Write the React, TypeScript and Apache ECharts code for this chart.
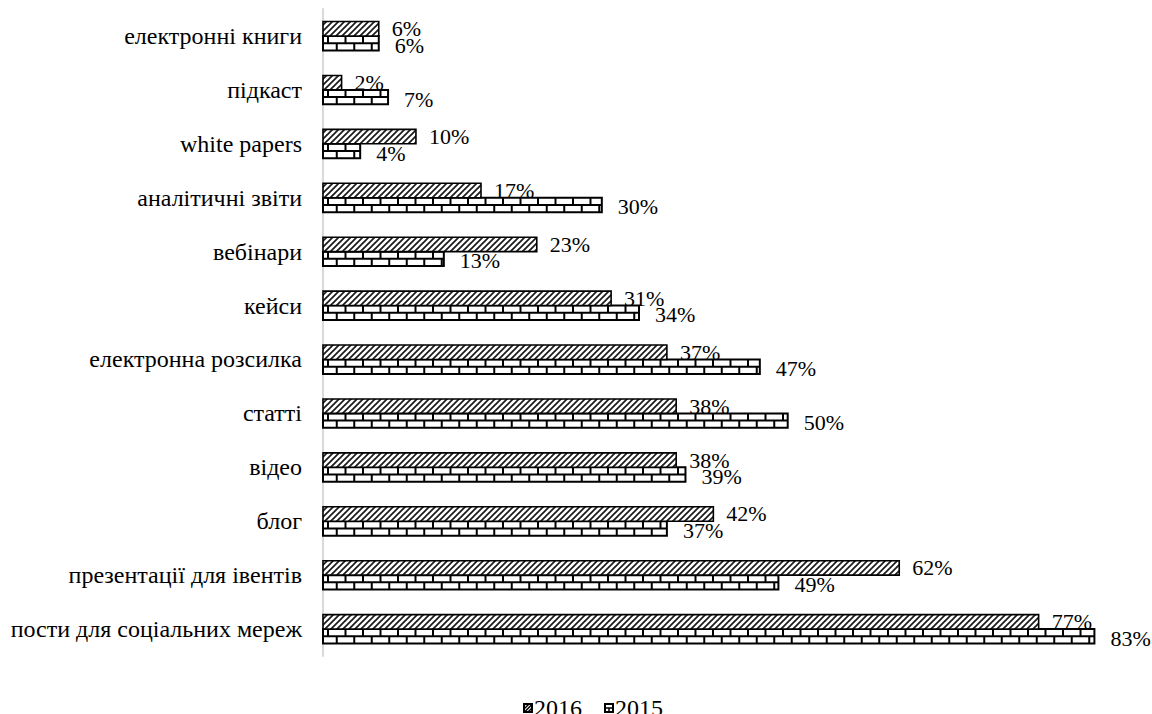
import React, { useEffect, useRef } from "react";
import * as echarts from "echarts";

// Content formats, listed top to bottom as they appear on the axis
const categories = [
  "електронні книги",
  "підкаст",
  "white papers",
  "аналітичні звіти",
  "вебінари",
  "кейси",
  "електронна розсилка",
  "статті",
  "відео",
  "блог",
  "презентації для івентів",
  "пости для соціальних мереж",
];

const values2016 = [6, 2, 10, 17, 23, 31, 37, 38, 38, 42, 62, 77];
const values2015 = [6, 7, 4, 30, 13, 34, 47, 50, 39, 37, 49, 83];

const seriesNames = ["2016", "2015"];

const FONT = "Liberation Serif";
const LABEL_SIZE = 22;
const AXIS_SIZE = 24;

// Diagonal hatch tile used for the 2016 bars
function makeHatchTile(): HTMLCanvasElement {
  const s = 6;
  const c = document.createElement("canvas");
  c.width = s;
  c.height = s;
  const ctx = c.getContext("2d")!;
  ctx.fillStyle = "#ffffff";
  ctx.fillRect(0, 0, s, s);
  ctx.strokeStyle = "#1a1a1a";
  ctx.lineWidth = 1.7;
  ctx.beginPath();
  ctx.moveTo(-1, s + 1);
  ctx.lineTo(s + 1, -1);
  ctx.moveTo(-1, 1);
  ctx.lineTo(1, -1);
  ctx.moveTo(s - 1, s + 1);
  ctx.lineTo(s + 1, s - 1);
  ctx.stroke();
  return c;
}

function makeLegendIcon(kind: "hatch" | "brick"): string {
  const s = 20;
  const c = document.createElement("canvas");
  c.width = s;
  c.height = s;
  const ctx = c.getContext("2d")!;
  ctx.fillStyle = "#ffffff";
  ctx.fillRect(0, 0, s, s);
  ctx.strokeStyle = "#000000";
  ctx.lineWidth = 3;
  if (kind === "hatch") {
    ctx.beginPath();
    for (let k = -s; k < 2 * s; k += 7) {
      ctx.moveTo(k, s);
      ctx.lineTo(k + s, 0);
    }
    ctx.stroke();
  } else {
    ctx.beginPath();
    ctx.moveTo(0, s / 2);
    ctx.lineTo(s, s / 2);
    ctx.moveTo(s / 2, s / 2);
    ctx.lineTo(s / 2, s);
    ctx.stroke();
  }
  ctx.lineWidth = 4;
  ctx.strokeRect(2, 2, s - 4, s - 4);
  return c.toDataURL();
}

export default function App() {
  const ref = useRef<HTMLDivElement>(null);

  useEffect(() => {
    if (!ref.current) return;
    const chart = echarts.init(ref.current, null, { renderer: "svg" });
    const hatch = makeHatchTile();
    const hatchIcon = makeLegendIcon("hatch");
    const brickIcon = makeLegendIcon("brick");

    const BRICK_W = 17.5;

    const makeRenderItem = (which: "2016" | "2015") => (params: any, api: any) => {
      const val = api.value(0);
      const cat = api.value(1);
      const start = api.coord([0, cat]);
      const end = api.coord([val, cat]);
      const band = api.size([0, 1])[1];
      const h = band * 0.268;
      const x0 = start[0];
      const w = end[0] - start[0];
      const cy = start[1];
      const y0 = which === "2016" ? cy - h : cy;
      const children: any[] = [];

      if (which === "2016") {
        children.push({
          type: "rect",
          shape: { x: x0, y: y0, width: w, height: h },
          style: {
            fill: { image: hatch, repeat: "repeat", imageWidth: 6, imageHeight: 6 },
            stroke: "#000",
            lineWidth: 1.6,
          },
        });
      } else {
        children.push({
          type: "rect",
          shape: { x: x0, y: y0, width: w, height: h },
          style: { fill: "#fff", stroke: "none" },
        });
        const mid = y0 + h / 2;
        children.push({
          type: "line",
          shape: { x1: x0, y1: mid, x2: x0 + w, y2: mid },
          style: { stroke: "#000", lineWidth: 2 },
        });
        // brick joints, top row and staggered bottom row
        for (let bx = x0 + 5; bx < x0 + w - 1.5; bx += BRICK_W) {
          children.push({
            type: "line",
            shape: { x1: bx, y1: y0, x2: bx, y2: mid },
            style: { stroke: "#000", lineWidth: 2 },
          });
        }
        for (let bx = x0 + 5 + BRICK_W / 2; bx < x0 + w - 1.5; bx += BRICK_W) {
          children.push({
            type: "line",
            shape: { x1: bx, y1: mid, x2: bx, y2: y0 + h },
            style: { stroke: "#000", lineWidth: 2 },
          });
        }
        children.push({
          type: "rect",
          shape: { x: x0, y: y0, width: w, height: h },
          style: { fill: "none", stroke: "#000", lineWidth: 2 },
        });
      }

      children.push({
        type: "text",
        x: end[0] + (which === "2016" ? 13 : 16),
        y: which === "2016" ? y0 + h / 2 : y0 + h / 2 + 2,
        style: {
          text: `${val}%`,
          fontSize: LABEL_SIZE,
          fontFamily: FONT,
          fill: "#000",
          align: "left",
          verticalAlign: "middle",
        },
      });

      return { type: "group", children };
    };

    chart.setOption({
      animation: false,
      backgroundColor: "#ffffff",
      textStyle: { fontFamily: FONT },
      grid: {
        left: 323,
        top: 9,
        right: 39,
        bottom: 58,
        outerBoundsMode: "none",
        containLabel: false,
      },
      legend: {
        top: 696,
        left: 523,
        padding: 0,
        itemWidth: 10,
        itemHeight: 10,
        itemGap: 22,
        textStyle: {
          fontSize: AXIS_SIZE,
          fontFamily: FONT,
          color: "#000",
          padding: [0, 0, 0, -4],
        },
        data: [
          { name: seriesNames[0], icon: "image://" + hatchIcon },
          { name: seriesNames[1], icon: "image://" + brickIcon },
        ],
      },
      xAxis: {
        type: "value",
        min: 0,
        max: 85,
        show: false,
        splitLine: { show: false },
      },
      yAxis: {
        type: "category",
        inverse: true,
        data: categories,
        axisLine: { show: true, lineStyle: { color: "#d9d9d9", width: 2 } },
        axisTick: { show: false },
        axisLabel: {
          margin: 21,
          fontSize: AXIS_SIZE,
          fontFamily: FONT,
          color: "#000",
          padding: [5, 0, 0, 0],
        },
        splitLine: { show: false },
      },
      series: [
        {
          name: seriesNames[0],
          type: "custom",
          renderItem: makeRenderItem("2016"),
          encode: { x: 0, y: 1 },
          data: values2016.map((v, i) => [v, i]),
          z: 3,
        },
        {
          name: seriesNames[1],
          type: "custom",
          renderItem: makeRenderItem("2015"),
          encode: { x: 0, y: 1 },
          data: values2015.map((v, i) => [v, i]),
          z: 2,
        },
      ],
    });

    return () => chart.dispose();
  }, []);

  return (
    <div
      ref={ref}
      style={{ position: "absolute", left: 0, top: 0, width: 1152, height: 714 }}
    />
  );
}
